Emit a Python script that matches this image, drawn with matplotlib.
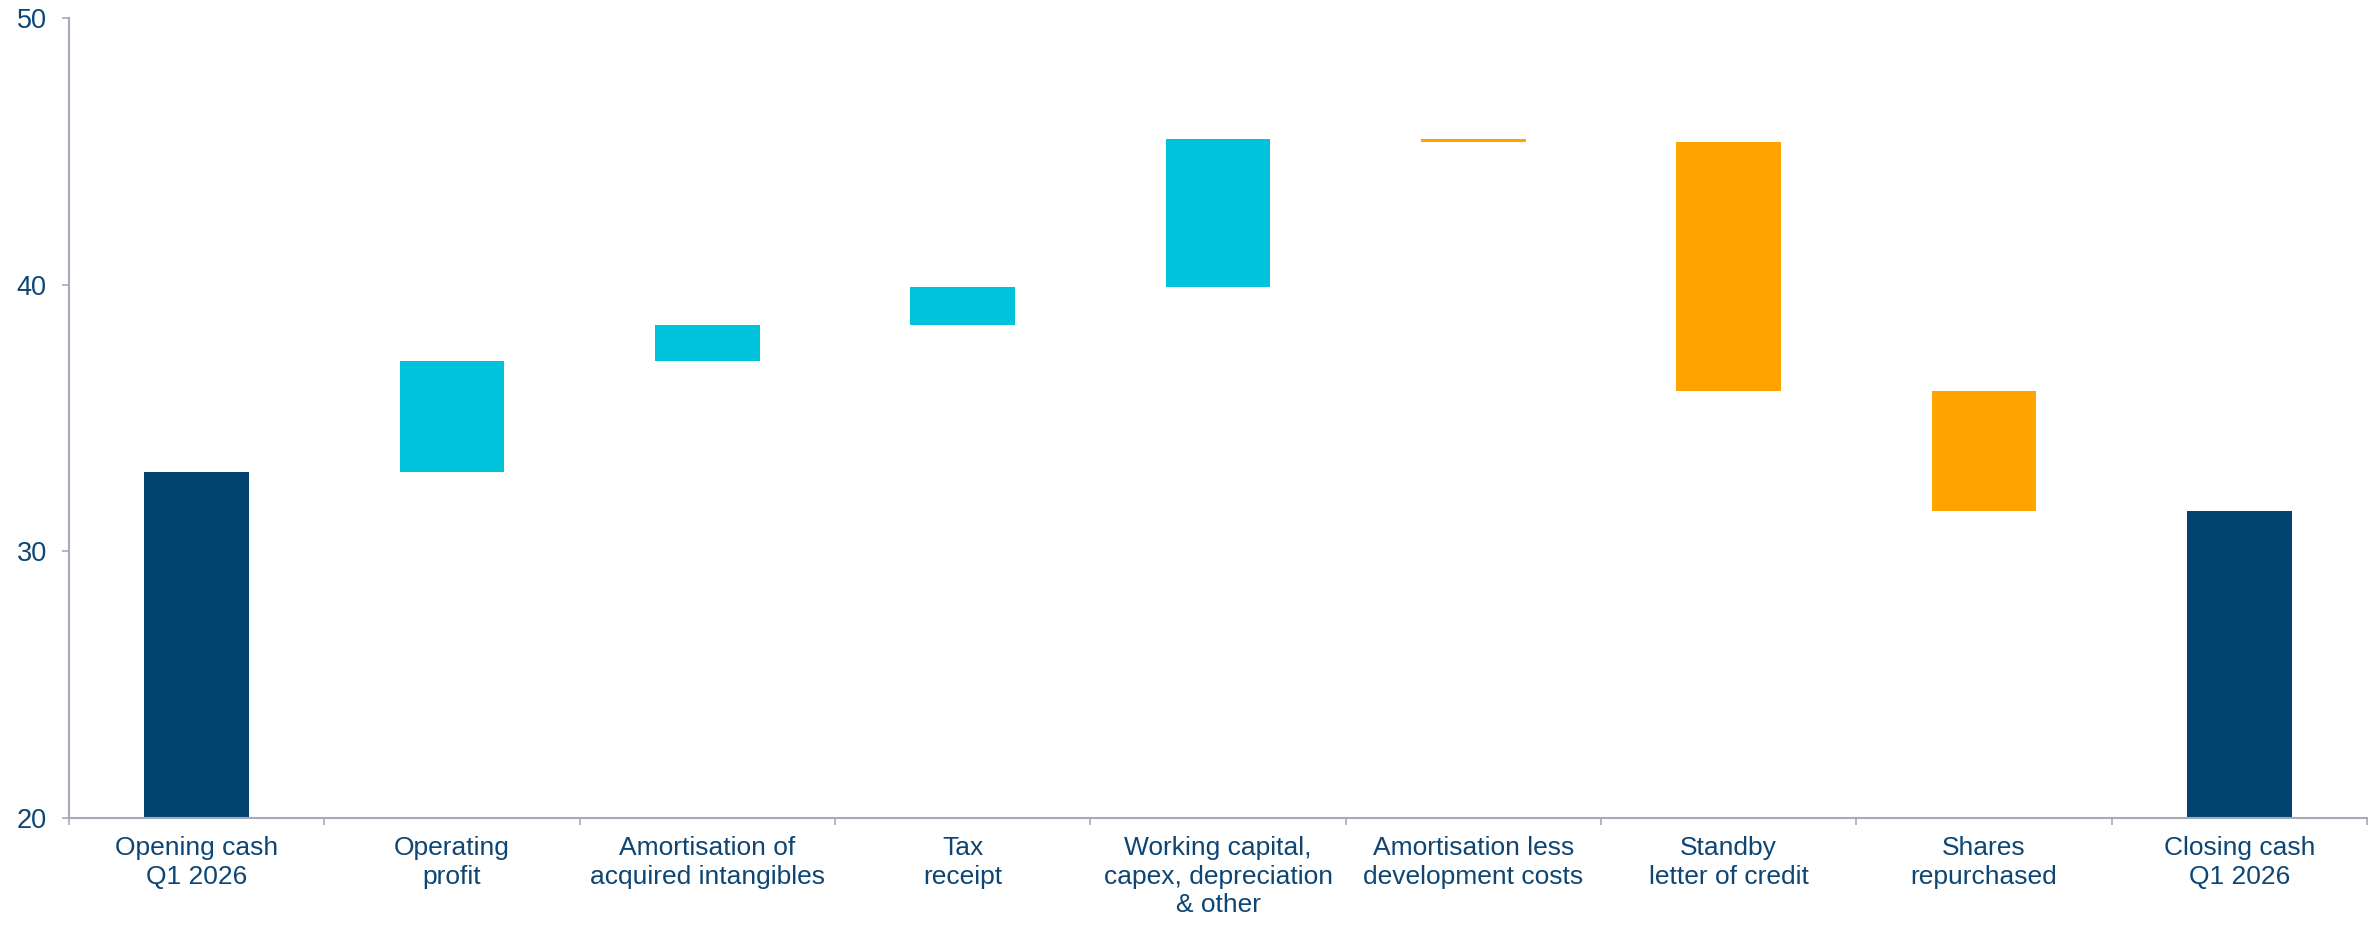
import numpy as np
import matplotlib
matplotlib.use("Agg")
import matplotlib.pyplot as plt

categories = ["Opening cash\nQ1 2026", "Operating\nprofit", "Amortisation of\nacquired intangibles",
              "Tax\nreceipt", "Working capital,\ncapex, depreciation\n& other",
              "Amortisation less\ndevelopment costs", "Standby\nletter of credit",
              "Shares\nrepurchased", "Closing cash\nQ1 2026"]
# 'total' bars are absolute; others are changes
kinds = ["total", "delta", "delta", "delta", "delta", "delta", "delta", "delta", "total"]
values = [32.95, 4.2, 1.35, 1.4, 5.55, -0.1, -9.35, -4.5, 31.5]
yticks = [20, 30, 40, 50]

NAVY = "#02436F"
CYAN = "#00C3DC"
ORANGE = "#FFA300"
TEXT = "#0D4574"
SPINE = "#A3AAB9"

plt.rcParams['font.family'] = ['Liberation Sans', 'DejaVu Sans']

fig = plt.figure(figsize=(23.8, 9.26), dpi=100)
ax = fig.add_axes([69/2380, 1-817.7/926, (2367-69)/2380, (817.7-18)/926])

running = 0.0
for i, (k, v) in enumerate(zip(kinds, values)):
    if k == "total":
        ax.bar(i, v - 20, bottom=20, width=0.41, color=NAVY)
        running = v
    else:
        bottom = running if v >= 0 else running + v
        ax.bar(i, abs(v), bottom=bottom, width=0.41, color=CYAN if v >= 0 else ORANGE)
        running += v

ax.set_xlim(-0.5, len(categories) - 0.5)
ax.set_ylim(20, 50)
ax.set_yticks(yticks)
ax.set_yticklabels([str(t) for t in yticks])
ax.set_xticks(range(len(categories)))
ax.set_xticklabels(categories, linespacing=1.25)
ax.set_xticks(np.arange(-0.5, len(categories)), minor=True)

ax.tick_params(axis='x', which='major', length=0, pad=13, labelsize=19, labelcolor=TEXT)
ax.tick_params(axis='x', which='minor', length=5, width=1.2, color=SPINE, direction='out')
ax.tick_params(axis='y', which='major', length=5, width=1.2, color=SPINE, pad=11,
               labelsize=19.5, labelcolor=TEXT)

for s in ['top', 'right']:
    ax.spines[s].set_visible(False)
for s in ['left', 'bottom']:
    ax.spines[s].set_color(SPINE)
    ax.spines[s].set_linewidth(1.5)

fig.savefig("out.png", dpi=100)
